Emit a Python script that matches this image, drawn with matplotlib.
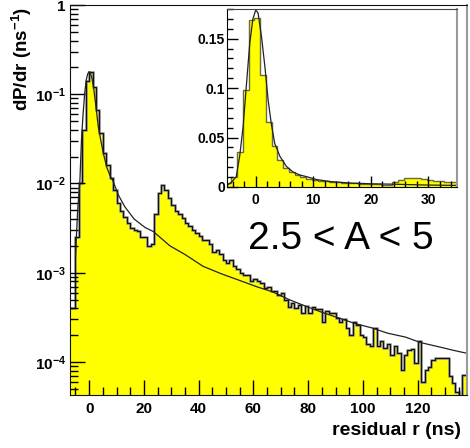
import numpy as np
import matplotlib
matplotlib.use("Agg")
from matplotlib import pyplot as plt
from matplotlib.ticker import FixedLocator, FixedFormatter, LogLocator, NullFormatter, MultipleLocator

plt.rcParams['font.family'] = ['Liberation Sans', 'DejaVu Sans']
plt.rcParams['font.weight'] = 'bold'
plt.rcParams['mathtext.fontset'] = 'custom'
plt.rcParams['mathtext.rm'] = 'Liberation Sans'
plt.rcParams['mathtext.bf'] = 'Liberation Sans:bold'
plt.rcParams['mathtext.default'] = 'bf'

# residual histogram, 1.25 ns bins starting at -7.5 ns
main_start = -7.5
main_width = 1.25
main_vals = [
    4.0e-4, 4.0e-4, 2.5e-3, 1.0e-2, 4.0e-2, 1.4e-1, 1.77e-1, 1.2e-1, 6.6e-2, 3.7e-2,
    2.2e-2, 1.6e-2, 1.15e-2, 8.5e-3, 6.0e-3, 4.9e-3, 4.2e-3, 3.6e-3, 3.2e-3, 3.0e-3,
    2.9e-3, 2.5e-3, 2.5e-3, 2.0e-3, 2.1e-3, 4.5e-3, 7.8e-3, 9.5e-3, 8.5e-3, 6.8e-3,
    5.7e-3, 4.9e-3, 4.5e-3, 4.1e-3, 3.6e-3, 3.3e-3, 3.0e-3, 2.8e-3, 2.6e-3, 2.3e-3,
    2.3e-3, 2.1e-3, 1.7e-3, 1.8e-3, 1.6e-3, 1.4e-3, 1.3e-3, 1.4e-3, 1.2e-3, 1.1e-3,
    1.0e-3, 9.5e-4, 9.5e-4, 8.0e-4, 8.4e-4, 8.0e-4, 7.6e-4, 6.7e-4, 7.0e-4, 6.3e-4,
    6.2e-4, 5.6e-4, 5.9e-4, 5.0e-4, 4.1e-4, 4.6e-4, 4.0e-4, 4.4e-4, 3.5e-4, 4.2e-4,
    3.5e-4, 4.1e-4, 3.9e-4, 3.9e-4, 2.8e-4, 3.7e-4, 3.5e-4, 3.5e-4, 3.1e-4, 2.8e-4,
    3.0e-4, 2.4e-4, 2.0e-4, 2.8e-4, 2.6e-4, 2.0e-4, 1.9e-4, 1.6e-4, 1.5e-4, 2.4e-4,
    1.5e-4, 1.7e-4, 1.45e-4, 1.6e-4, 1.2e-4, 1.5e-4, 1.25e-4, 8.1e-5, 1.2e-4, 1.35e-4,
    1.4e-4, 9.7e-5, 1.7e-4, 6.0e-5, 8.1e-5, 8.8e-5, 1.05e-4, 1.1e-4, 1.1e-4, 1.1e-4,
    1.1e-4, 7.0e-5, 5.8e-5, 4.6e-5, 1.0e-5, 7.2e-5, 7.2e-5,
]

# finer histogram for the zoomed view, 1 ns bins
inset_start = -5.25
inset_width = 1.0
inset_vals = [
    0.0037, 0.0104, 0.0357, 0.098, 0.169, 0.171, 0.113, 0.066, 0.041, 0.027,
    0.019, 0.0155, 0.012, 0.0098, 0.0081, 0.0071, 0.0063, 0.0058, 0.0054, 0.0047,
    0.0044, 0.0040, 0.0037, 0.0035, 0.0033, 0.0031, 0.0028, 0.0024, 0.0020, 0.0050,
    0.0075, 0.0088, 0.0092, 0.0088, 0.0080, 0.0072, 0.0065, 0.0060, 0.0055, 0.0052,
    0.0050,
]

# expected residual distribution (smooth curve)
curve_r = [-5.0, -4.2, -3.4, -2.8, -2.2, -1.6, -1.05, -0.5, 0.0, 0.4, 1.0, 1.6,
           2.15, 2.7, 3.3, 4.2, 5.3, 6.5, 7.7, 8.8, 10.6, 13.0, 16.4, 20.5, 23.4,
           29.5, 35.0, 41.6, 48.0, 54.9, 61.0, 67.0, 73.0, 79.2, 85.0, 91.3, 97.0,
           103.4, 109.0, 115.5, 121.0, 127.6, 133.0, 138.0]
curve_p = [0.0015, 0.005, 0.0104, 0.031, 0.061, 0.105, 0.145, 0.170, 0.179, 0.176,
           0.152, 0.121, 0.088, 0.064, 0.044, 0.031, 0.021, 0.015, 0.0121, 0.0105,
           0.0075, 0.0055, 0.0040, 0.0032, 0.0029, 0.0020, 0.0016, 0.00118,
           0.00098, 0.00082, 0.0007, 0.00061, 0.0005, 0.00042, 0.00036, 0.00031,
           0.00027, 0.00024, 0.00021, 0.00019, 0.000165, 0.000148, 0.000135,
           0.000125]

log_ticks = [1e-4, 1e-3, 1e-2, 1e-1, 1]
log_labels = ['$10^{-4}$', '$10^{-3}$', '$10^{-2}$', '$10^{-1}$', '1']

main_edges = main_start + main_width * np.arange(len(main_vals) + 1)
inset_edges = inset_start + inset_width * np.arange(len(inset_vals) + 1)

fig = plt.figure(figsize=(4.7, 4.48), dpi=100)

ax = fig.add_axes([0.1489, 0.1183, 0.8447, 0.8705])
ax.stairs(main_vals, main_edges, baseline=1e-7, fill=True, color='#ffff00')
ax.stairs(main_vals, main_edges, baseline=None, color='#9a9a9a', lw=1.8)
ax.stairs(main_vals, main_edges, baseline=None, color='#111111', lw=0.9)
ax.plot(curve_r, curve_p, color='#222222', lw=0.9)
ax.set_yscale('log')
ax.set_xlim(-7, 138)
ax.set_ylim(4.26e-5, 1)
ax.yaxis.set_major_locator(FixedLocator(log_ticks))
ax.yaxis.set_major_formatter(FixedFormatter(log_labels))
ax.yaxis.set_minor_locator(LogLocator(base=10, subs=range(2, 10)))
ax.yaxis.set_minor_formatter(NullFormatter())
ax.xaxis.set_major_locator(MultipleLocator(20))
ax.xaxis.set_minor_locator(MultipleLocator(5))
ax.tick_params(which='both', direction='in', top=False, right=False, width=1, labelsize=11)
ax.tick_params(which='major', length=11)
ax.tick_params(which='minor', length=6)
ax.tick_params(axis='x', pad=5)
ax.tick_params(axis='y', pad=3)
for s in ['left', 'bottom', 'top']:
    ax.spines[s].set_color('#111111')
ax.spines['right'].set_color('#999999')
ax.spines['right'].set_linewidth(1.5)

fig.text(0.981, 0.029, 'residual r (ns)', ha='right', va='baseline', fontsize=14, fontweight='bold')
fig.text(0.046, 0.985, 'dP/dr (ns$^{-1}$)', ha='center', va='top', rotation=90,
         fontsize=13.5, fontweight='bold')
fig.text(0.528, 0.444, '2.5 < A < 5', ha='left', va='baseline', fontsize=28,
         fontweight='normal', family='Liberation Sans')

ins = fig.add_axes([0.483, 0.5826, 0.4894, 0.3973])
ins.stairs(inset_vals, inset_edges, baseline=0, fill=True, color='#ffff00')
ins.stairs(inset_vals, inset_edges, baseline=None, color='#6a6a40', lw=1.0)
ins.plot(curve_r, curve_p, color='#222222', lw=0.9)
ins.set_xlim(-5, 35)
ins.set_ylim(0, 0.18)
ins.xaxis.set_major_locator(MultipleLocator(10))
ins.xaxis.set_minor_locator(MultipleLocator(2))
ins.yaxis.set_major_locator(FixedLocator([0, 0.05, 0.1, 0.15]))
ins.yaxis.set_major_formatter(FixedFormatter(['0', '0.05', '0.1', '0.15']))
ins.yaxis.set_minor_locator(MultipleLocator(0.01))
ins.tick_params(which='both', direction='in', top=False, right=False, width=1, labelsize=10)
ins.tick_params(which='major', length=8)
ins.tick_params(which='minor', length=4)
ins.tick_params(axis='x', pad=4)
ins.tick_params(axis='y', pad=1.5)
ins.spines['right'].set_color('#999999')
ins.spines['right'].set_linewidth(1.5)
ins.spines['top'].set_color('#444444')

fig.savefig('out.png', dpi=100)
